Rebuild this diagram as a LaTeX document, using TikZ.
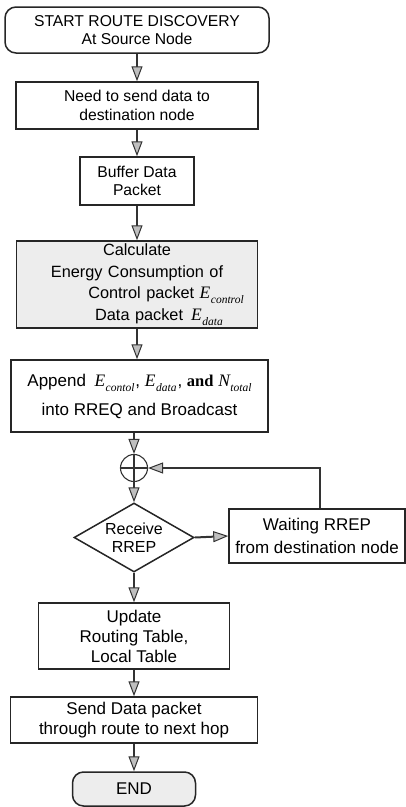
\documentclass[tikz,border=0pt]{standalone}
\usepackage{fontspec}
\setmainfont{Liberation Sans}
\newfontfamily\tmsfont{Liberation Serif}
\usetikzlibrary{arrows.meta,shapes.geometric}

% italic serif symbol with a lowered italic subscript
\newcommand{\symsub}[2]{{\tmsfont\itshape\fontsize{17.5}{17.5}\selectfont #1}\kern0.5pt\raisebox{-5pt}{\tmsfont\itshape\fontsize{11.5}{11.5}\selectfont #2}}

\tikzset{
  txt/.style={font=\fontsize{15.7}{18.5}\selectfont, align=center, inner sep=0pt},
  bigtxt/.style={font=\fontsize{17}{20}\selectfont},
  procbox/.style={txt, draw=black!85, line width=1.5pt, fill=white},
  termbox/.style={procbox, rounded corners=11pt},
  shaded/.style={fill=gray!14},
  decision/.style={txt, diamond, aspect=1.74, draw=black!85, line width=1.5pt, fill=white},
  flow/.style={draw=black!80, line width=2pt,
    -{Triangle[length=15pt,width=11pt,fill=gray!50,line width=1pt]}},
  plain/.style={draw=black!80, line width=1.3pt}
}

\begin{document}
\begin{tikzpicture}[x=1pt,y=-1pt]
  \fill[white] (0,0) rectangle (406,807);
  \useasboundingbox (0,0) rectangle (406,807);

  % main column
  \node[termbox, minimum width=264, minimum height=46] (start) at (137,30)
    {START ROUTE DISCOVERY\\At Source Node};
  \node[procbox, minimum width=242, minimum height=47] (need) at (137,105.5)
    {Need to send data to\\destination node};
  \node[procbox, minimum width=114, minimum height=48] (buffer) at (137,181)
    {Buffer Data\\Packet};
  \node[procbox, shaded, minimum width=241, minimum height=87,
        text width=237, font=\fontsize{16.3}{21.5}\selectfont] (calc) at (137,284.5)
    {Calculate\\
     Energy Consumption of\\
     \hspace*{58pt}Control packet \symsub{E}{control}\\
     \hspace*{44pt}Data packet\enspace\symsub{E}{data}};
  \node[procbox, minimum width=257, minimum height=72,
        font=\fontsize{17}{29}\selectfont] (append) at (139.5,396)
    {Append\enspace \symsub{E}{contol}\kern1pt, \symsub{E}{data}\kern1pt,
     {\tmsfont\bfseries\fontsize{16.5}{16.5}\selectfont and} \symsub{N}{total}\\
     into RREQ and Broadcast};

  % junction of the main path and the waiting loop
  \node[circle, draw=black!80, line width=1.1pt, minimum size=27pt, inner sep=0pt] (sum) at (134,468) {};
  \draw[plain] (sum.west) -- (sum.east);
  \draw[plain] (sum.north) -- (sum.south);

  \node[decision, minimum width=120, minimum height=69,
        font=\fontsize{16}{18.5}\selectfont] (recv) at (134,537.5)
    {Receive\\RREP};
  \node[procbox, bigtxt, minimum width=176, minimum height=54,
        font=\fontsize{17}{23}\selectfont] (wait) at (317,536)
    {Waiting RREP\\from destination node};

  \node[procbox, bigtxt, minimum width=191, minimum height=66] (update) at (134,636)
    {Update\\Routing Table,\\Local Table};
  \node[procbox, bigtxt, minimum width=247, minimum height=46] (send) at (134,720)
    {Send Data packet\\through route to next hop};
  \node[termbox, bigtxt, shaded, minimum width=123, minimum height=34] (end) at (134,789)
    {END};

  \coordinate (loop) at (320,468);

  % connectors
  \draw[flow] (start) -- (need);
  \draw[flow] (need) -- (buffer);
  \draw[flow] (buffer) -- (calc);
  \draw[flow] (calc.south) -- (calc.south |- append.north);
  \draw[flow] (append.south -| sum.north) -- (sum.north);
  \draw[flow] (sum.south) -- (recv.north);
  \draw[flow] (recv.east) -- (wait.west);
  \draw[flow] (wait.north -| loop) -- (loop) -- (sum.east);
  \draw[flow] (recv.south) -- (update.north);
  \draw[flow] (update) -- (send);
  \draw[flow] (send) -- (end);
\end{tikzpicture}
\end{document}
